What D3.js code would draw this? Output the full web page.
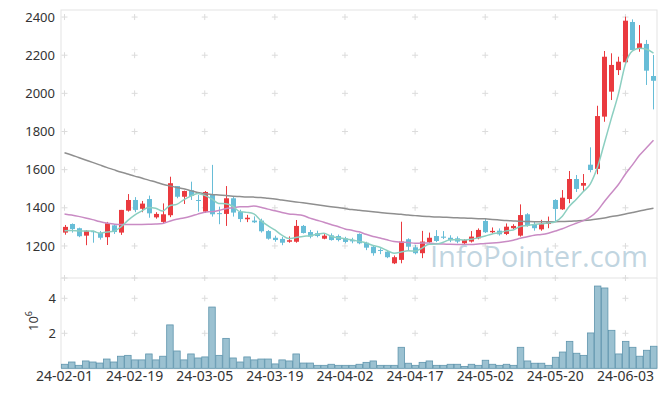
<!DOCTYPE html>
<html>
<head>
<meta charset="utf-8">
<script src="https://cdn.jsdelivr.net/npm/d3@7"></script>
<style>
  body { margin: 0; background: #fff; }
  text { font-family: "Noto Sans", "Open Sans", sans-serif; }
</style>
</head>
<body>
<script>
// trading days
var dates = [
  "24-02-01","24-02-02","24-02-05","24-02-06","24-02-07","24-02-08","24-02-13","24-02-14","24-02-15","24-02-16",
  "24-02-19","24-02-20","24-02-21","24-02-22","24-02-23","24-02-26","24-02-27","24-02-28","24-02-29","24-03-04",
  "24-03-05","24-03-06","24-03-07","24-03-08","24-03-11","24-03-12","24-03-13","24-03-14","24-03-15","24-03-18",
  "24-03-19","24-03-20","24-03-21","24-03-22","24-03-25","24-03-26","24-03-27","24-03-28","24-03-29","24-04-01",
  "24-04-02","24-04-03","24-04-04","24-04-05","24-04-08","24-04-09","24-04-11","24-04-12","24-04-15","24-04-16",
  "24-04-17","24-04-18","24-04-19","24-04-22","24-04-23","24-04-24","24-04-25","24-04-26","24-04-29","24-04-30",
  "24-05-02","24-05-03","24-05-07","24-05-08","24-05-09","24-05-10","24-05-13","24-05-14","24-05-16","24-05-17",
  "24-05-20","24-05-21","24-05-22","24-05-23","24-05-24","24-05-27","24-05-28","24-05-29","24-05-30","24-05-31",
  "24-06-03","24-06-04","24-06-05","24-06-07","24-06-10"
];

var open = [
  1270,1315,1293,1254,1278,1270,1246,1308,1270,1385,
  1441,1395,1446,1350,1326,1361,1514,1458,1492,1441,
  1380,1472,1372,1368,1450,1380,1340,1333,1333,1278,
  1243,1237,1222,1222,1305,1273,1267,1238,1256,1252,
  1240,1231,1263,1217,1196,1179,1170,1109,1127,1235,
  1193,1162,1220,1252,1249,1243,1240,1214,1223,1240,
  1331,1272,1280,1263,1293,1254,1366,1314,1287,1315,
  1441,1392,1446,1551,1516,1626,1604,1878,2009,2122,
  2163,2374,2236,2259,2091
];
var high = [
  1310,1318,1296,1283,1280,1278,1326,1314,1389,1472,
  1456,1436,1464,1377,1423,1563,1514,1490,1537,1467,
  1488,1625,1406,1514,1460,1390,1363,1355,1343,1283,
  1254,1247,1250,1336,1310,1284,1280,1262,1266,1260,
  1248,1243,1266,1222,1205,1188,1176,1150,1327,1240,
  1205,1279,1270,1283,1278,1256,1250,1236,1278,1292,
  1345,1297,1292,1318,1314,1418,1372,1327,1337,1354,
  1445,1493,1593,1572,1577,1717,1935,2222,2210,2192,
  2402,2388,2358,2280,2201
];
var low = [
  1259,1270,1246,1204,1217,1233,1205,1263,1258,1380,
  1377,1377,1348,1343,1315,1351,1450,1420,1441,1380,
  1373,1354,1314,1305,1354,1325,1325,1320,1270,1233,
  1222,1204,1217,1217,1265,1240,1245,1235,1228,1224,
  1214,1214,1209,1178,1149,1157,1136,1105,1109,1175,
  1156,1136,1215,1220,1236,1220,1214,1210,1218,1235,
  1268,1266,1254,1257,1289,1249,1301,1280,1280,1293,
  1327,1389,1424,1483,1488,1586,1576,1851,1965,2096,
  2157,2227,2218,2044,1916
];
var close = [
  1300,1289,1251,1280,1272,1243,1319,1273,1389,1441,
  1389,1422,1371,1368,1366,1529,1458,1488,1462,1436,
  1483,1366,1368,1450,1375,1341,1348,1324,1277,1238,
  1231,1217,1230,1305,1268,1249,1252,1254,1231,1231,
  1221,1224,1214,1191,1162,1174,1141,1141,1223,1196,
  1162,1223,1243,1226,1243,1230,1223,1231,1249,1284,
  1272,1279,1261,1301,1305,1362,1306,1293,1314,1326,
  1394,1453,1551,1499,1530,1598,1881,2192,2149,2166,
  2381,2227,2262,2119,2066
];
// volume, millions of shares
var volume = [
  0.23,0.36,0.17,0.42,0.36,0.30,0.53,0.36,0.69,0.74,
  0.48,0.48,0.82,0.48,0.69,2.48,0.99,0.48,0.82,0.59,
  0.65,3.50,0.74,1.71,0.59,0.36,0.65,0.48,0.53,0.53,
  0.25,0.48,0.42,0.82,0.30,0.30,0.17,0.17,0.23,0.17,
  0.17,0.17,0.23,0.34,0.42,0.17,0.17,0.17,1.20,0.29,
  0.17,0.34,0.42,0.17,0.17,0.23,0.23,0.11,0.23,0.17,
  0.46,0.23,0.17,0.23,0.17,1.20,0.42,0.29,0.29,0.17,
  0.63,0.93,1.54,0.86,0.74,2.02,4.70,4.59,2.17,0.82,
  1.54,1.20,0.69,1.03,1.26
];
var ma5 = [
  1280,1281,1279,1278,1278,1267,1273,1277,1299,1333,
  1362,1383,1402,1398,1383,1411,1418,1442,1461,1475,
  1465,1447,1423,1421,1408,1380,1376,1368,1333,1306,
  1284,1257,1239,1244,1250,1254,1261,1266,1251,1243,
  1238,1232,1224,1216,1202,1193,1176,1162,1168,1175,
  1173,1189,1209,1210,1219,1233,1233,1231,1235,1243,
  1252,1263,1269,1279,1284,1302,1307,1313,1316,1320,
  1327,1356,1408,1445,1485,1526,1612,1740,1870,1997,
  2154,2223,2237,2231,2211
];
var ma20 = [
  1368,1362,1355,1347,1338,1328,1320,1315,1312,1312,
  1312,1313,1314,1315,1318,1330,1340,1347,1356,1367,
  1377,1380,1386,1395,1400,1405,1406,1409,1403,1393,
  1385,1375,1368,1365,1360,1346,1335,1324,1312,1302,
  1289,1282,1274,1261,1250,1242,1232,1223,1220,1218,
  1214,1215,1215,1211,1210,1209,1208,1207,1207,1210,
  1213,1215,1218,1223,1230,1240,1248,1256,1260,1267,
  1278,1290,1305,1319,1333,1352,1385,1433,1478,1522,
  1577,1625,1675,1715,1754
];
var ma60 = [
  1689,1677,1664,1651,1638,1625,1612,1600,1588,1577,
  1566,1556,1545,1535,1524,1515,1507,1500,1490,1480,
  1474,1470,1467,1464,1461,1459,1457,1456,1454,1450,
  1446,1441,1436,1431,1426,1421,1416,1411,1406,1401,
  1396,1391,1387,1383,1379,1375,1372,1369,1366,1362,
  1359,1356,1354,1352,1351,1349,1348,1346,1345,1343,
  1342,1339,1336,1333,1331,1329,1328,1327,1327,1327,
  1327,1328,1329,1331,1333,1336,1341,1347,1354,1360,
  1367,1375,1383,1391,1398
];

var xTicks = ["24-02-01","24-02-19","24-03-05","24-03-19","24-04-02","24-04-17","24-05-02","24-05-20","24-06-03"];
var priceTicks = [1200, 1400, 1600, 1800, 2000, 2200, 2400];
var volTicks = [2, 4];

var W = 665, H = 396;
var left = 61, right = 657, pTop = 10, pBot = 278, vTop = 280.8, vBot = 368.3;

var svg = d3.select("body").append("svg").attr("width", W).attr("height", H);

var x = d3.scaleBand().domain(dates).range([left, right]).padding(0);
var y = d3.scaleLinear().domain([1032, 2437]).range([pBot, pTop]);
var yv = d3.scaleLinear().domain([0, 5]).range([vBot, vTop]);
var cx = function(d) { return x(d) + x.bandwidth() / 2; };

var idx = d3.range(dates.length);

// frame
var frame = svg.append("g").attr("stroke", "#e3e3e3").attr("fill", "none");
frame.append("rect").attr("x", left).attr("y", pTop).attr("width", right - left).attr("height", pBot - pTop);
frame.append("line").attr("x1", left).attr("x2", left).attr("y1", pBot).attr("y2", vBot);
frame.append("line").attr("x1", right).attr("x2", right).attr("y1", pBot).attr("y2", vBot);
frame.append("line").attr("x1", left).attr("x2", right).attr("y1", vBot + 0.5).attr("y2", vBot + 0.5);

// grid crosses
var crosses = [];
xTicks.forEach(function(t) {
  priceTicks.forEach(function(p) { crosses.push([cx(t), y(p)]); });
  volTicks.forEach(function(v) { crosses.push([cx(t), yv(v)]); });
  crosses.push([cx(t), pBot]);
});
svg.append("g").selectAll("path").data(crosses).enter().append("path")
  .attr("d", function(c) {
    return "M" + (c[0] - 3) + "," + c[1] + "h6M" + c[0] + "," + (c[1] - 3) + "v6";
  })
  .attr("stroke", "#dcdcdc").attr("stroke-width", 1).attr("fill", "none");

// volume bars
svg.append("g").selectAll("rect").data(idx).enter().append("rect")
  .attr("x", function(i) { return x(dates[i]) + 0.5; })
  .attr("y", function(i) { return yv(volume[i]); })
  .attr("width", x.bandwidth() - 0.5)
  .attr("height", function(i) { return yv(0) - yv(volume[i]); })
  .attr("fill", "#9bc1d1")
  .attr("stroke", "#5f95ad")
  .attr("stroke-width", 0.8);

// candles
var up = "#ea3a3f", down = "#67bdd7";
var bw = 5;
var candles = svg.append("g").selectAll("g").data(idx).enter().append("g");
candles.append("line")
  .attr("x1", function(i) { return Math.round(cx(dates[i])) + 0.5; })
  .attr("x2", function(i) { return Math.round(cx(dates[i])) + 0.5; })
  .attr("y1", function(i) { return y(high[i]); })
  .attr("y2", function(i) { return y(low[i]); })
  .attr("stroke", function(i) { return close[i] >= open[i] ? up : down; })
  .attr("stroke-width", 1);
candles.append("rect")
  .attr("x", function(i) { return Math.round(cx(dates[i])) - 2; })
  .attr("y", function(i) { return y(Math.max(open[i], close[i])); })
  .attr("width", bw)
  .attr("height", function(i) { return Math.max(1, Math.abs(y(open[i]) - y(close[i]))); })
  .attr("fill", function(i) { return close[i] >= open[i] ? up : down; });

// moving averages
var line = function(arr) {
  return d3.line().x(function(i) { return cx(dates[i]); }).y(function(i) { return y(arr[i]); })
    .curve(d3.curveMonotoneX)(idx);
};
svg.append("path").attr("d", line(ma60)).attr("fill", "none").attr("stroke", "#8f8f8f").attr("stroke-width", 1.5);
svg.append("path").attr("d", line(ma20)).attr("fill", "none").attr("stroke", "#c98bc4").attr("stroke-width", 1.5);
svg.append("path").attr("d", line(ma5)).attr("fill", "none").attr("stroke", "#8ccfc1").attr("stroke-width", 1.5);

// axes
var yAxis = svg.append("g").attr("transform", "translate(" + left + ",0)")
  .call(d3.axisLeft(y).tickValues(priceTicks).tickSize(0).tickPadding(6).tickFormat(d3.format("d")));
var vAxis = svg.append("g").attr("transform", "translate(" + left + ",0)")
  .call(d3.axisLeft(yv).tickValues(volTicks).tickSize(0).tickPadding(5).tickFormat(d3.format("d")));
var xAxis = svg.append("g").attr("transform", "translate(0," + vBot + ")")
  .call(d3.axisBottom(x).tickValues(xTicks).tickSize(0).tickPadding(3));
[yAxis, vAxis].forEach(function(a) {
  a.select(".domain").remove();
  a.selectAll("text").attr("fill", "#333").style("font-size", "13px")
    .style("font-family", "'Noto Sans', sans-serif");
});
xAxis.select(".domain").remove();
xAxis.selectAll("text").attr("fill", "#333").style("font-size", "14px")
  .style("font-family", "'Noto Sans', sans-serif");

// exponent label
var expo = svg.append("text")
  .attr("transform", "translate(38,321) rotate(-90)")
  .attr("text-anchor", "middle")
  .attr("fill", "#333").style("font-size", "13px");
expo.append("tspan").text("10");
expo.append("tspan").attr("dy", "-6").style("font-size", "9px").text("6");

// watermark
svg.append("text")
  .attr("x", 430).attr("y", 267)
  .attr("textLength", 218).attr("lengthAdjust", "spacingAndGlyphs")
  .attr("fill", "#b6cedb").attr("fill-opacity", 0.85)
  .style("font-size", "30px").style("font-family", "'Open Sans', 'Noto Sans', sans-serif")
  .text("InfoPointer.com");
</script>
</body>
</html>
